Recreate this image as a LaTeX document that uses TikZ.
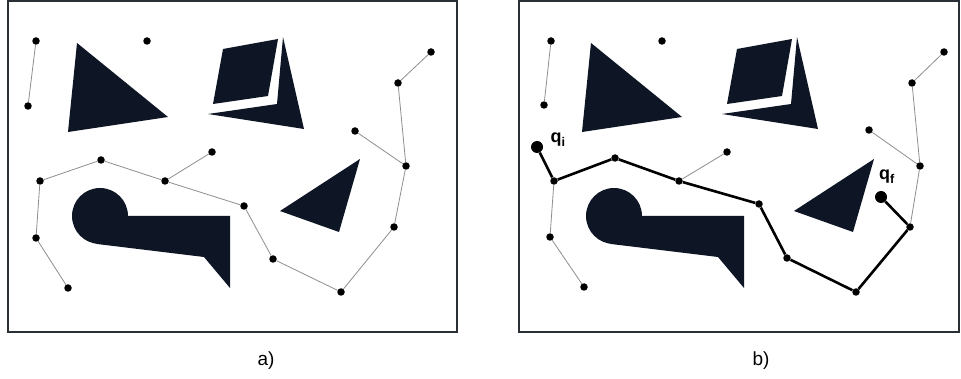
\documentclass[tikz,border=0pt]{standalone}
\usepackage{fontspec}
\setmainfont{Liberation Sans}
\definecolor{Ink}{HTML}{0E1626}
\definecolor{Edge}{HTML}{8E8E8E}
\definecolor{Frame}{HTML}{2B2F36}

% obstacles of one panel, in pixel units
\newcommand{\obstacles}{%
\fill[Ink] (77,43)--(168,117)--(68,132)--cycle;
\fill[Ink] (223,49)--(278,39)--(268,96)--(213,104)--cycle;
\fill[Ink] (283,37)--(304,129)--(208,114)--(277,104)--cycle;
\fill[Ink] (360,159)--(339,232)--(280,211)--cycle;
\fill[Ink] (100,216) circle[radius=28];
\fill[Ink] (100,216)--(230,216)--(230,288)--(204,257)--(97,244)--cycle;}

\begin{document}
\begin{tikzpicture}[x=1pt,y=-1pt,
dot/.style={circle,fill=black,inner sep=0pt,minimum size=7.5pt},
bigdot/.style={circle,fill=black,inner sep=0pt,minimum size=12pt},
link/.style={draw=Edge,line width=0.8pt},
route/.style={draw=black,line width=2.6pt},
panel/.style={draw=Frame,line width=1.6pt},
sublabel/.style={font=\fontsize{19}{21}\selectfont},
qlab/.style={font=\bfseries\fontsize{18}{20}\selectfont}]
\useasboundingbox (0,0) rectangle (961,379);
\fill[white] (0,0) rectangle (961,379);
% panel a
\draw[panel] (8,1) rectangle (457,332);
\obstacles
\node[dot] (a1) at (36,41) {};
\node[dot] (a2) at (147,41) {};
\node[dot] (a3) at (28,106) {};
\node[dot] (a4) at (431,52) {};
\node[dot] (a5) at (398,83) {};
\node[dot] (a6) at (355,131) {};
\node[dot] (a7) at (212,152) {};
\node[dot] (a8) at (101,160) {};
\node[dot] (a9) at (40,181) {};
\node[dot] (a10) at (165,181) {};
\node[dot] (a11) at (406,166) {};
\node[dot] (a12) at (244,206) {};
\node[dot] (a13) at (394,227) {};
\node[dot] (a14) at (36,238) {};
\node[dot] (a15) at (273,259) {};
\node[dot] (a16) at (68,288) {};
\node[dot] (a17) at (341,292) {};
\draw[link] (a1)--(a3);
\draw[link] (a4)--(a5);
\draw[link] (a5)--(a11);
\draw[link] (a6)--(a11);
\draw[link] (a11)--(a13);
\draw[link] (a13)--(a17);
\draw[link] (a17)--(a15);
\draw[link] (a15)--(a12);
\draw[link] (a12)--(a10);
\draw[link] (a10)--(a7);
\draw[link] (a10)--(a8);
\draw[link] (a8)--(a9);
\draw[link] (a9)--(a14);
\draw[link] (a14)--(a16);
\node[sublabel] (capa) at (266,361) {a)};
% panel b
\draw[panel] (519,1) rectangle (959,332);
\begin{scope}[xshift=514pt]
\obstacles
\end{scope}
\node[dot] (b1) at (551,41) {};
\node[dot] (b2) at (662,41) {};
\node[dot] (b3) at (544,105) {};
\node[dot] (b4) at (944,52) {};
\node[dot] (b5) at (912,83) {};
\node[dot] (b6) at (869,130) {};
\node[dot] (b7) at (727,152) {};
\node[dot] (b8) at (615,158) {};
\node[dot] (b9) at (554,181) {};
\node[dot] (b10) at (679,181) {};
\node[dot] (b11) at (920,166) {};
\node[dot] (b12) at (759,204) {};
\node[dot] (b13) at (910,227) {};
\node[dot] (b14) at (550,237) {};
\node[dot] (b15) at (787,258) {};
\node[dot] (b16) at (584,287) {};
\node[dot] (b17) at (856,292) {};
\node[bigdot] (qi) at (537,147) {};
\node[bigdot] (qf) at (881,197) {};
\node[qlab] (qilab) at (558,140) {q\textsubscript{i}};
\node[qlab] (qflab) at (887,177) {q\textsubscript{f}};
\draw[link] (b1)--(b3);
\draw[link] (b4)--(b5);
\draw[link] (b5)--(b11);
\draw[link] (b6)--(b11);
\draw[link] (b11)--(b13);
\draw[link] (b10)--(b7);
\draw[link] (b9)--(b14);
\draw[link] (b14)--(b16);
\draw[route] (qi)--(b9)--(b8)--(b10)--(b12)--(b15)--(b17)--(b13)--(qf);
\node[sublabel] (capb) at (761,361) {b)};
\end{tikzpicture}
\end{document}
